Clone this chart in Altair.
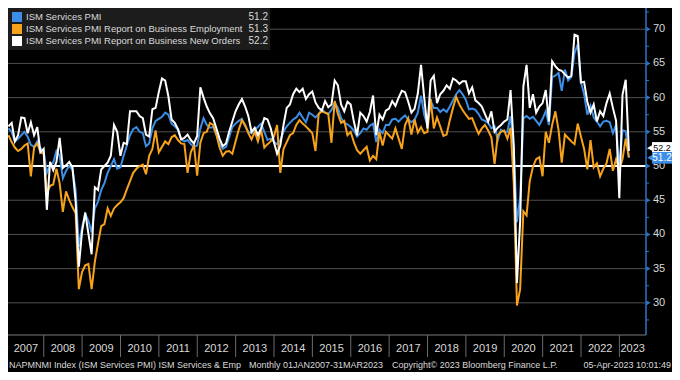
import altair as alt
import pandas as pd

# ---------------- data (monthly, Jan 2007 .. Mar 2023) ----------------
pmi = [
    55.5, 55.0, 53.6, 54.0, 54.5, 55.0, 54.3, 53.1, 52.8, 53.6, 52.6, 52.2,  # 2007
    49.0, 50.1, 50.5, 52.2, 51.5, 48.2, 49.3, 50.0, 49.5, 46.5, 38.2, 41.0,  # 2008
    43.0, 42.0, 40.3, 43.8, 44.8, 46.5, 47.5, 49.0, 50.0, 51.0, 49.6, 49.8,  # 2009
    51.5, 53.0, 54.5, 55.4, 55.7, 55.0, 54.8, 52.9, 53.3, 55.5, 56.6, 56.9,  # 2010
    57.2, 57.8, 57.5, 56.2, 55.8, 55.3, 53.9, 53.6, 53.8, 53.2, 52.8, 53.0,  # 2011
    55.5, 57.0, 56.0, 55.6, 55.7, 54.6, 53.3, 52.5, 52.8, 54.2, 55.7, 56.2,  # 2012
    56.6, 56.9, 55.8, 55.0, 54.8, 55.3, 55.7, 56.2, 55.0, 53.8, 54.0, 53.5,  # 2013
    53.2, 53.8, 55.0, 55.8, 56.3, 56.8, 57.1, 57.8, 57.1, 56.4, 57.8, 57.5,  # 2014
    57.1, 57.6, 58.3, 57.8, 57.6, 58.2, 59.3, 58.5, 57.0, 56.3, 56.1, 55.7,  # 2015
    55.2, 54.3, 54.8, 55.5, 55.3, 55.9, 56.2, 53.5, 55.3, 54.8, 56.0, 56.0,  # 2016
    56.8, 56.9, 56.5, 57.0, 57.4, 56.8, 56.4, 56.8, 57.8, 60.3, 57.5, 56.0,  # 2017
    59.6, 58.5, 58.5, 57.9, 58.3, 57.9, 58.7, 59.6, 60.5, 61.1, 60.5, 59.7,  # 2018
    58.3, 58.4, 58.2, 57.6, 56.8, 56.6, 56.3, 55.5, 55.8, 53.8, 55.3, 55.0,  # 2019
    55.0, 57.3, 52.5, 41.8, 45.4, 57.0, 57.3, 56.9, 57.2, 56.6, 56.0, 56.9,  # 2020
    58.0, 56.0, 63.0, 63.2, 63.6, 61.0, 64.1, 62.5, 63.0, 66.5, 67.8, 62.3,  # 2021
    60.5, 57.5, 58.8, 57.1, 56.5, 55.8, 56.5, 56.6, 56.4, 54.8, 56.0, 49.6,  # 2022
    55.2, 55.1, 51.2,                                                        # 2023
]
employment = [
    54.5, 53.5, 52.7, 52.2, 52.5, 53.0, 53.3, 48.5, 52.7, 53.3, 52.0, 51.8,
    46.0, 47.1, 47.3, 49.6, 47.5, 43.3, 46.3, 45.0, 44.0, 43.1, 32.0, 34.5,
    35.5, 35.7, 32.0, 36.0, 38.7, 41.2, 41.5, 43.8, 42.7, 43.8, 44.3, 44.7,
    45.3, 46.6, 47.8, 49.0, 49.6, 50.0, 50.2, 48.8, 51.5, 52.5, 55.2, 52.0,
    52.8, 53.6, 53.2, 54.2, 54.5, 53.8, 53.3, 53.2, 49.0, 52.0, 53.0, 48.6,
    53.4, 54.8, 55.0, 56.3, 56.0, 54.6, 52.7, 51.5, 52.1, 52.2, 51.8, 53.6,
    55.3, 56.7, 56.0, 54.8, 53.9, 55.0, 53.6, 55.3, 52.7, 53.2, 53.6, 54.3,
    56.0, 49.0, 52.5, 53.5, 54.5, 54.8, 56.0, 56.7, 56.2, 55.8, 55.3, 54.8,
    52.2, 57.6, 58.0, 57.8, 57.6, 53.4, 59.5, 57.6, 56.3, 56.6, 54.5, 55.0,
    53.5, 52.3, 51.8, 52.3, 52.8, 50.8, 51.5, 51.0, 55.0, 53.0, 55.0, 54.5,
    54.0, 55.5, 54.0, 52.5, 56.0, 57.0, 54.6, 56.8, 54.9, 55.7, 54.8, 55.0,
    59.8, 55.5, 57.1, 55.8, 54.4, 54.6, 56.7, 58.5, 60.1, 59.0, 58.2, 57.5,
    56.9, 57.0, 55.8, 54.7, 55.5, 56.0, 55.2, 54.2, 50.3, 54.5, 55.0, 55.2,
    54.0, 55.6, 47.5, 29.6, 32.0, 43.4, 42.8, 47.8, 49.9, 51.0, 51.3, 48.5,
    55.0, 53.4, 56.0, 58.0, 55.3, 50.5, 54.6, 54.1, 53.6, 53.2, 56.2, 54.3,
    52.5, 49.5, 53.8, 49.8, 50.4, 48.5, 49.6, 50.4, 52.5, 49.3, 51.0, 49.5,
    51.0, 54.0, 51.3,
]
new_orders = [
    55.8, 56.3, 53.6, 54.5, 57.1, 57.0, 54.8, 56.4, 54.5, 55.7, 52.0, 52.5,
    43.6, 50.6, 49.4, 50.6, 54.1, 49.7, 50.1, 50.6, 49.8, 44.8, 35.3, 40.4,
    43.2, 40.1, 37.1, 46.9, 46.5, 49.5, 50.0, 50.5, 51.5, 56.0, 55.0, 51.5,
    53.4, 53.2, 58.0, 58.0, 58.0, 57.3, 57.0, 54.6, 54.3, 58.3, 58.5, 60.8,
    62.8, 62.5, 60.2, 56.8, 56.3, 55.4, 53.9, 54.1, 54.6, 53.8, 53.3, 54.4,
    61.5, 60.0, 58.7, 57.7, 57.0, 55.5, 54.0, 52.9, 53.3, 55.0, 56.5, 58.0,
    59.0, 59.8, 58.7, 57.3, 55.0, 55.6, 54.5, 55.5, 57.0, 56.8, 55.5, 53.5,
    51.8, 53.0, 56.0, 58.5, 59.0, 60.5, 61.3, 60.8, 61.3, 59.8, 60.5, 60.9,
    59.3, 58.5, 58.1, 59.5, 58.6, 59.0, 62.5, 61.8, 59.0, 58.0, 59.4, 59.0,
    56.5, 54.5, 57.8, 57.3, 56.5, 57.9, 60.3, 54.5, 57.5, 56.8, 58.1, 58.4,
    59.5, 58.8, 60.0, 61.0, 60.8, 59.4, 57.8, 58.4, 60.6, 64.8, 60.0, 55.5,
    62.5, 63.2, 59.2, 60.5, 61.0, 61.8, 61.3, 62.8, 62.5, 62.0, 62.4, 62.4,
    60.6, 61.5, 59.6, 59.2, 58.7, 57.6, 56.5, 58.0, 55.0, 55.6, 56.0, 56.5,
    56.8, 61.1, 53.0, 32.9, 41.9, 61.6, 64.8, 58.5, 60.5, 57.8, 58.7, 59.2,
    61.1, 56.5, 65.3, 64.6, 64.1, 63.9, 63.4, 62.9, 63.2, 69.2, 69.0, 62.2,
    62.3, 59.4, 57.8, 59.0, 56.5, 58.0, 57.3, 59.2, 60.6, 58.5, 56.6, 45.3,
    60.4, 62.6, 52.2,
]

years = list(range(2007, 2024))
major_ticks = [30, 35, 40, 45, 50, 55, 60, 65, 70]
minor_ticks = [27.5, 32.5, 37.5, 42.5, 47.5, 52.5, 57.5, 62.5, 67.5, 72.5]
legend_labels = [
    "ISM Services PMI",
    "ISM Services PMI Report on Business Employment",
    "ISM Services PMI Report on Business New Orders",
]
legend_values = ["51.2", "51.3", "52.2"]
last_values = [51.2, 51.3, 52.2]
footer_parts = [
    "NAPMNMI Index (ISM Services PMI) ISM Services & Emp",
    "Monthly 01JAN2007-31MAR2023",
    "Copyright\u00a9 2023 Bloomberg Finance L.P.",
    "05-Apr-2023 10:01:49",
]

# ---------------- layout / style ----------------
W, H = 638, 327
T0, T1 = -0.15, 199.35
Y0, Y1 = 25.3, 73.1
BLUE = "#3d8ee6"
ORANGE = "#f7a21b"
WHITE = "#ffffff"
AXIS_BLUE = "#2e74c8"
TXT = "#dadada"
FONT = "Liberation Sans"

xscale = alt.Scale(domain=[T0, T1], nice=False, zero=False)
yscale = alt.Scale(domain=[Y0, Y1], nice=False, zero=False)


def Yf(field):
    return alt.Y(field, scale=yscale, axis=None)


n = len(pmi)
df = pd.DataFrame({"t": list(range(n)), "pmi": pmi, "emp": employment, "nord": new_orders})

X = alt.X("t:Q", scale=xscale, axis=None)
base = alt.Chart(df)
l_pmi = base.mark_line(color=BLUE, strokeWidth=2).encode(x=X, y=Yf("pmi:Q"))
l_emp = base.mark_line(color=ORANGE, strokeWidth=2).encode(x=X, y=Yf("emp:Q"))
l_no = base.mark_line(color=WHITE, strokeWidth=2).encode(x=X, y=Yf("nord:Q"))

# grid, 50 line and the right-hand axis
major_df = pd.DataFrame({"v": major_ticks, "s": [str(v) for v in major_ticks]})
grid = alt.Chart(major_df).mark_rule(color="#505050", strokeWidth=1).encode(
    y=Yf("v:Q"), x=alt.value(0), x2=alt.value(W))
fifty = alt.Chart(pd.DataFrame({"v": [50]})).mark_rule(color=WHITE, strokeWidth=2).encode(
    y=Yf("v:Q"), x=alt.value(0), x2=alt.value(W))
axis_line = alt.Chart(pd.DataFrame({"a": [0]})).mark_rule(color=AXIS_BLUE, strokeWidth=1.5).encode(
    x=alt.value(W), y=alt.value(0), y2=alt.value(H))
major_marks = alt.Chart(major_df).mark_point(
    shape="triangle-right", filled=True, size=22, color=AXIS_BLUE, opacity=1, strokeWidth=0
).encode(y=Yf("v:Q"), x=alt.value(W + 2.5))
minor = alt.Chart(pd.DataFrame({"v": minor_ticks})).mark_rule(color=AXIS_BLUE, strokeWidth=1).encode(
    y=Yf("v:Q"), x=alt.value(W), x2=alt.value(W + 3))
axis_labels = alt.Chart(major_df).mark_text(
    align="left", baseline="middle", color=TXT, fontSize=11, font=FONT
).encode(y=Yf("v:Q"), x=alt.value(W + 7), text="s:N")

# bottom year band
sep_df = pd.DataFrame({"t": [12 * (y - 2007) - 0.97 for y in years[1:]]})
seps = alt.Chart(sep_df).mark_rule(color="#6a6a6a", strokeWidth=1).encode(
    x=alt.X("t:Q", scale=xscale, axis=None), y=alt.value(H), y2=alt.value(H + 22))
bottom_line = alt.Chart(pd.DataFrame({"a": [0]})).mark_rule(color="#7a7a7a", strokeWidth=1).encode(
    x=alt.value(0), x2=alt.value(W), y=alt.value(H))
centers = []
for y in years:
    a = max(12 * (y - 2007) - 0.97, T0)
    b = min(12 * (y - 2006) - 0.97, T1)
    centers.append((a + b) / 2)
yl_df = pd.DataFrame({"t": centers, "label": [str(y) for y in years]})
year_labels = alt.Chart(yl_df).mark_text(color=TXT, fontSize=11, font=FONT, baseline="middle").encode(
    x=alt.X("t:Q", scale=xscale, axis=None), y=alt.value(H + 14), text="label:N")


def text_at(s, x, y, align="left", color=TXT, size=11):
    return alt.Chart(pd.DataFrame({"s": [s]})).mark_text(
        align=align, baseline="middle", color=color, fontSize=size, font=FONT
    ).encode(x=alt.value(x), y=alt.value(y), text="s:N")


def box(x1, x2, y1, y2, color):
    return alt.Chart(pd.DataFrame({"a": [0]})).mark_rect(color=color).encode(
        x=alt.value(x1), x2=alt.value(x2), y=alt.value(y1), y2=alt.value(y2))


# legend
legend_layers = [box(0, 262, 0, 42, "#1c1c1c")]
for i, (lab, val, col) in enumerate(zip(legend_labels, legend_values, [BLUE, ORANGE, WHITE])):
    cy = 9 + 12 * i
    legend_layers.append(box(4, 14, cy - 5, cy + 5, col))
    legend_layers.append(text_at(lab, 18, cy, size=9.5))
    legend_layers.append(text_at(val, 260, cy, align="right", size=10))


# right value tags (the white one sits just above the blue one, as in the reference)
def tag(val, pos, label, fill, tcol, size):
    d = pd.DataFrame({"v": [pos], "lo": [pos - 0.85], "hi": [pos + 0.85], "s": [label], "val": [val]})
    b = alt.Chart(d)
    r = b.mark_rect(color=fill).encode(
        x=alt.value(W + 6), x2=alt.value(W + 26), y=Yf("lo:Q"), y2="hi:Q")
    tri = b.mark_point(shape="triangle-left", filled=True, size=120, color=fill, opacity=1, strokeWidth=0).encode(
        x=alt.value(W + 6), y=Yf("v:Q"))
    t = b.mark_text(color=tcol, fontSize=size, font=FONT, baseline="middle").encode(
        x=alt.value(W + 16), y=Yf("v:Q"), text="s:N")
    return [r, tri, t]


tags = (tag(last_values[2], last_values[2] + 0.45, legend_values[2], WHITE, "#000000", 9)
        + tag(last_values[0], last_values[0], legend_values[0], BLUE, "#ffffff", 10))

FY = H + 30
footer = [
    text_at(footer_parts[0], 1, FY, size=9),
    text_at(footer_parts[1], 241, FY, size=9),
    text_at(footer_parts[2], 384, FY, size=9),
    text_at(footer_parts[3], W + 25, FY, align="right", size=9),
]

chart = alt.layer(
    grid, fifty, l_pmi, l_emp, l_no, axis_line, minor, major_marks, axis_labels,
    bottom_line, seps, year_labels, *legend_layers, *tags, *footer,
).properties(
    width=W, height=H, background="#000000",
    padding={"left": 0, "top": 0, "right": 26, "bottom": 37},
    autosize=alt.AutoSizeParams(type="none"),
).configure_view(stroke=None)

chart.save("out.html", embed_options={"renderer": "svg", "actions": False})
